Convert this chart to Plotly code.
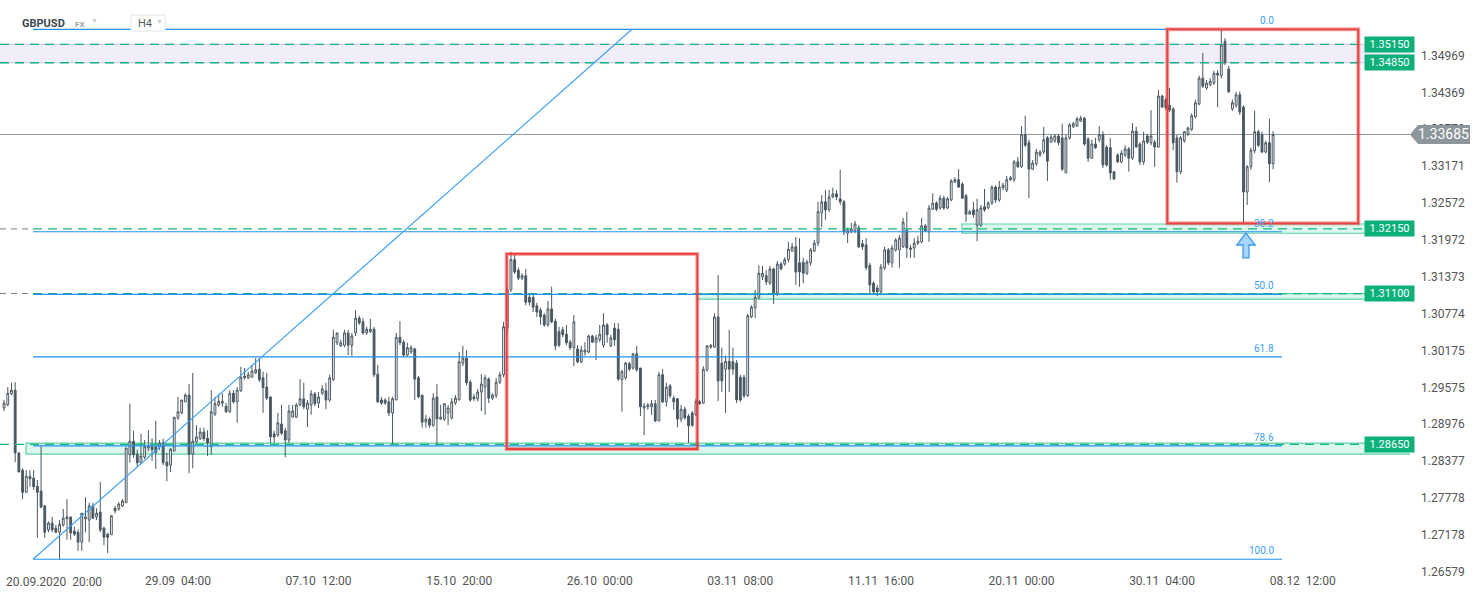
import plotly.graph_objects as go

# ---------------- DATA (GBPUSD, H4) ----------------
open_ = [
    1.2924, 1.2929, 1.2947, 1.2953, 1.2851, 1.2823, 1.2787, 1.2813, 1.2810, 1.2797,
    1.2789, 1.2765, 1.2726, 1.2737, 1.2729, 1.2722, 1.2734, 1.2747, 1.2747, 1.2724,
    1.2722, 1.2706, 1.2744, 1.2742, 1.2765, 1.2747, 1.2755, 1.2729, 1.2719, 1.2718,
    1.2761, 1.2760, 1.2765, 1.2770, 1.2848, 1.2870, 1.2849, 1.2835, 1.2844, 1.2859,
    1.2862, 1.2861, 1.2861, 1.2867, 1.2836, 1.2831, 1.2854, 1.2908, 1.2916, 1.2934,
    1.2945, 1.2849, 1.2869, 1.2874, 1.2885, 1.2875, 1.2861,
    1.2914, 1.2929, 1.2932, 1.2927, 1.2918, 1.2948, 1.2934, 1.2952, 1.2973, 1.2973,
    1.2974, 1.2981, 1.2987, 1.2973, 1.2958, 1.2942, 1.2882, 1.2880, 1.2898, 1.2887,
    1.2872, 1.2909, 1.2909, 1.2929, 1.2939, 1.2922, 1.2929, 1.2947, 1.2932, 1.2948,
    1.2952, 1.2937, 1.2970, 1.3030, 1.3025, 1.3026, 1.3046, 1.3026, 1.3046, 1.3070,
    1.3064, 1.3046, 1.3048, 1.3052, 1.2979, 1.2937, 1.2937, 1.2934, 1.2916, 1.2937,
    1.3039, 1.3031, 1.3010, 1.3015, 1.3020, 1.2973, 1.2945,
    1.2901, 1.2906, 1.2896, 1.2942, 1.2906, 1.2906, 1.2916, 1.2908, 1.2932, 1.2937,
    1.2997, 1.3005, 1.2966, 1.2942, 1.2939, 1.2950, 1.2958, 1.2971, 1.2940, 1.2944,
    1.2966, 1.2978, 1.3054, 1.3116, 1.3165, 1.3148, 1.3135, 1.3139, 1.3104, 1.3104,
    1.3090, 1.3083, 1.3075, 1.3059, 1.3085, 1.3065, 1.3048, 1.3051, 1.3044, 1.3031,
    1.3022, 1.3020, 1.2999, 1.3015, 1.3015, 1.3041, 1.3031, 1.3035, 1.3026, 1.3059,
    1.3025, 1.3054, 1.3052, 1.2970, 1.2973, 1.2996, 1.2989, 1.3012,
    1.2989, 1.2924, 1.2926, 1.2926, 1.2931, 1.2903, 1.2978, 1.2934, 1.2960, 1.2940,
    1.2939, 1.2906, 1.2922, 1.2911, 1.2916, 1.2913, 1.2934, 1.2932, 1.2986, 1.3023,
    1.3023, 1.3072, 1.2997, 1.2987, 1.3000, 1.2999, 1.2997, 1.2974, 1.2974, 1.2944,
    1.3072, 1.3087, 1.3104, 1.3137, 1.3139, 1.3127, 1.3150, 1.3111, 1.3158, 1.3158,
    1.3165, 1.3179, 1.3186, 1.3160, 1.3161, 1.3143, 1.3160, 1.3179, 1.3192, 1.3241,
    1.3259, 1.3246, 1.3267, 1.3272, 1.3264, 1.3259, 1.3208,
    1.3210, 1.3212, 1.3217, 1.3191, 1.3189, 1.3156, 1.3127, 1.3119, 1.3113, 1.3152,
    1.3181, 1.3160, 1.3181, 1.3181, 1.3186, 1.3213, 1.3184, 1.3184, 1.3192, 1.3194,
    1.3220, 1.3210, 1.3247, 1.3257, 1.3249, 1.3265, 1.3249, 1.3262, 1.3291, 1.3295,
    1.3288, 1.3269, 1.3239, 1.3246, 1.3221, 1.3221, 1.3251, 1.3249, 1.3257, 1.3283,
    1.3262, 1.3282, 1.3278, 1.3295, 1.3295, 1.3324, 1.3316, 1.3368, 1.3355, 1.3312,
    1.3321, 1.3335, 1.3340, 1.3363, 1.3356, 1.3358, 1.3366,
    1.3363, 1.3306, 1.3363, 1.3381, 1.3382, 1.3390, 1.3395, 1.3361, 1.3330, 1.3353,
    1.3360, 1.3368, 1.3348, 1.3347, 1.3308, 1.3335, 1.3324, 1.3335, 1.3345, 1.3330,
    1.3374, 1.3353, 1.3324, 1.3366, 1.3355, 1.3356, 1.3348, 1.3431, 1.3425, 1.3416,
    1.3410, 1.3363, 1.3308, 1.3358, 1.3369, 1.3377, 1.3397, 1.3418, 1.3460, 1.3444,
    1.3449, 1.3452, 1.3468, 1.3464, 1.3520, 1.3475, 1.3410, 1.3416, 1.3433, 1.3413,
    1.3275, 1.3316, 1.3342, 1.3373, 1.3368, 1.3340, 1.3355, 1.3321,
]

high = [
    1.2937, 1.2958, 1.2965, 1.2966, 1.2852, 1.2826, 1.2823, 1.2823, 1.2823, 1.2807,
    1.2862, 1.2765, 1.2740, 1.2747, 1.2734, 1.2742, 1.2760, 1.2776, 1.2747, 1.2731,
    1.2727, 1.2753, 1.2779, 1.2770, 1.2770, 1.2761, 1.2804, 1.2731, 1.2721, 1.2749,
    1.2765, 1.2771, 1.2776, 1.2859, 1.2931, 1.2887, 1.2856, 1.2882, 1.2872, 1.2888,
    1.2875, 1.2903, 1.2872, 1.2874, 1.2851, 1.2859, 1.2909, 1.2942, 1.2937, 1.2948,
    1.2963, 1.2981, 1.2896, 1.2892, 1.2892, 1.2888, 1.2953,
    1.2942, 1.2947, 1.2948, 1.2932, 1.2953, 1.2953, 1.2958, 1.2991, 1.2989, 1.2983,
    1.2994, 1.3005, 1.3005, 1.2983, 1.2981, 1.2942, 1.2887, 1.2916, 1.2929, 1.2892,
    1.2929, 1.2929, 1.2932, 1.2971, 1.2965, 1.2937, 1.2953, 1.2950, 1.2950, 1.2961,
    1.2965, 1.2978, 1.3051, 1.3046, 1.3035, 1.3051, 1.3051, 1.3046, 1.3083, 1.3074,
    1.3070, 1.3056, 1.3069, 1.3056, 1.2994, 1.2942, 1.2940, 1.2942, 1.2942, 1.3046,
    1.3065, 1.3035, 1.3030, 1.3026, 1.3022, 1.2976, 1.2945,
    1.2913, 1.2909, 1.2948, 1.2963, 1.2929, 1.2932, 1.2929, 1.2940, 1.2945, 1.3015,
    1.3025, 1.3018, 1.2970, 1.2947, 1.2955, 1.2979, 1.2978, 1.2974, 1.2948, 1.2973,
    1.2983, 1.3064, 1.3121, 1.3178, 1.3173, 1.3152, 1.3143, 1.3150, 1.3111, 1.3111,
    1.3095, 1.3087, 1.3078, 1.3098, 1.3121, 1.3069, 1.3056, 1.3056, 1.3059, 1.3035,
    1.3075, 1.3026, 1.3025, 1.3031, 1.3043, 1.3043, 1.3043, 1.3059, 1.3078, 1.3062,
    1.3043, 1.3062, 1.3062, 1.2986, 1.2999, 1.2999, 1.3013, 1.3025,
    1.2989, 1.2932, 1.2932, 1.2937, 1.2937, 1.2983, 1.2987, 1.2965, 1.2963, 1.2944,
    1.2940, 1.2929, 1.2926, 1.2914, 1.2919, 1.2939, 1.2937, 1.2992, 1.3026, 1.3028,
    1.3078, 1.3140, 1.3022, 1.3009, 1.3051, 1.3022, 1.3002, 1.2978, 1.2978, 1.3077,
    1.3091, 1.3116, 1.3156, 1.3155, 1.3148, 1.3155, 1.3152, 1.3163, 1.3161, 1.3169,
    1.3194, 1.3192, 1.3202, 1.3200, 1.3168, 1.3165, 1.3184, 1.3197, 1.3259, 1.3270,
    1.3278, 1.3278, 1.3282, 1.3278, 1.3311, 1.3262, 1.3217,
    1.3225, 1.3228, 1.3221, 1.3197, 1.3200, 1.3160, 1.3130, 1.3124, 1.3158, 1.3186,
    1.3184, 1.3189, 1.3200, 1.3205, 1.3233, 1.3243, 1.3189, 1.3200, 1.3204, 1.3233,
    1.3223, 1.3254, 1.3273, 1.3260, 1.3270, 1.3269, 1.3267, 1.3296, 1.3299, 1.3312,
    1.3291, 1.3272, 1.3246, 1.3259, 1.3264, 1.3254, 1.3280, 1.3260, 1.3286, 1.3286,
    1.3293, 1.3290, 1.3301, 1.3301, 1.3327, 1.3332, 1.3382, 1.3399, 1.3360, 1.3327,
    1.3345, 1.3343, 1.3381, 1.3366, 1.3368, 1.3369, 1.3369,
    1.3386, 1.3368, 1.3387, 1.3389, 1.3397, 1.3399, 1.3397, 1.3364, 1.3360, 1.3363,
    1.3382, 1.3374, 1.3351, 1.3363, 1.3309, 1.3338, 1.3343, 1.3351, 1.3348, 1.3387,
    1.3381, 1.3356, 1.3373, 1.3369, 1.3408, 1.3360, 1.3441, 1.3433, 1.3428, 1.3444,
    1.3413, 1.3368, 1.3366, 1.3374, 1.3381, 1.3403, 1.3425, 1.3464, 1.3501, 1.3457,
    1.3460, 1.3472, 1.3473, 1.3539, 1.3525, 1.3480, 1.3425, 1.3438, 1.3438, 1.3416,
    1.3319, 1.3347, 1.3407, 1.3376, 1.3373, 1.3358, 1.3394, 1.3374,
]

low = [
    1.2919, 1.2927, 1.2945, 1.2836, 1.2820, 1.2776, 1.2787, 1.2796, 1.2791, 1.2713,
    1.2761, 1.2713, 1.2722, 1.2722, 1.2721, 1.2678, 1.2731, 1.2710, 1.2710, 1.2716,
    1.2692, 1.2692, 1.2722, 1.2706, 1.2744, 1.2742, 1.2722, 1.2701, 1.2688, 1.2718,
    1.2753, 1.2757, 1.2763, 1.2770, 1.2835, 1.2843, 1.2828, 1.2833, 1.2841, 1.2854,
    1.2838, 1.2825, 1.2856, 1.2831, 1.2805, 1.2820, 1.2854, 1.2905, 1.2914, 1.2934,
    1.2818, 1.2826, 1.2867, 1.2872, 1.2870, 1.2846, 1.2848,
    1.2911, 1.2926, 1.2926, 1.2916, 1.2916, 1.2931, 1.2900, 1.2950, 1.2970, 1.2971,
    1.2974, 1.2979, 1.2966, 1.2916, 1.2937, 1.2867, 1.2867, 1.2877, 1.2880, 1.2844,
    1.2867, 1.2909, 1.2908, 1.2927, 1.2922, 1.2893, 1.2913, 1.2927, 1.2924, 1.2945,
    1.2922, 1.2934, 1.2968, 1.3026, 1.3023, 1.3023, 1.3010, 1.3009, 1.3041, 1.3059,
    1.3043, 1.3043, 1.3046, 1.2974, 1.2932, 1.2929, 1.2929, 1.2911, 1.2864, 1.2937,
    1.3026, 1.3007, 1.3007, 1.3012, 1.2937, 1.2940, 1.2892,
    1.2892, 1.2892, 1.2893, 1.2864, 1.2905, 1.2903, 1.2896, 1.2905, 1.2929, 1.2937,
    1.2992, 1.2961, 1.2934, 1.2935, 1.2935, 1.2919, 1.2913, 1.2932, 1.2937, 1.2940,
    1.2963, 1.2974, 1.3048, 1.3113, 1.3142, 1.3132, 1.3132, 1.3091, 1.3091, 1.3080,
    1.3072, 1.3059, 1.3056, 1.3056, 1.3062, 1.3018, 1.3023, 1.3039, 1.3026, 1.3018,
    1.2992, 1.2997, 1.2997, 1.3009, 1.3013, 1.3030, 1.3002, 1.3031, 1.3022, 1.3030,
    1.3023, 1.3025, 1.2968, 1.2918, 1.2970, 1.2984, 1.2986, 1.2983,
    1.2911, 1.2880, 1.2921, 1.2913, 1.2901, 1.2903, 1.2932, 1.2926, 1.2940, 1.2921,
    1.2893, 1.2901, 1.2905, 1.2867, 1.2893, 1.2911, 1.2929, 1.2931, 1.2983, 1.3020,
    1.3022, 1.2935, 1.2950, 1.2916, 1.2950, 1.2978, 1.2932, 1.2934, 1.2940, 1.2942,
    1.3070, 1.3070, 1.3100, 1.3132, 1.3124, 1.3124, 1.3093, 1.3106, 1.3148, 1.3155,
    1.3161, 1.3178, 1.3124, 1.3121, 1.3127, 1.3140, 1.3155, 1.3178, 1.3187, 1.3218,
    1.3230, 1.3243, 1.3265, 1.3262, 1.3254, 1.3205, 1.3192,
    1.3208, 1.3208, 1.3184, 1.3181, 1.3148, 1.3108, 1.3109, 1.3106, 1.3111, 1.3148,
    1.3156, 1.3152, 1.3178, 1.3152, 1.3184, 1.3168, 1.3168, 1.3168, 1.3189, 1.3192,
    1.3210, 1.3194, 1.3246, 1.3244, 1.3246, 1.3246, 1.3247, 1.3260, 1.3290, 1.3282,
    1.3264, 1.3226, 1.3238, 1.3233, 1.3195, 1.3218, 1.3243, 1.3247, 1.3254, 1.3257,
    1.3259, 1.3278, 1.3275, 1.3293, 1.3291, 1.3314, 1.3314, 1.3348, 1.3265, 1.3311,
    1.3317, 1.3332, 1.3337, 1.3293, 1.3355, 1.3355, 1.3351,
    1.3309, 1.3306, 1.3360, 1.3379, 1.3381, 1.3389, 1.3350, 1.3324, 1.3329, 1.3345,
    1.3356, 1.3314, 1.3316, 1.3295, 1.3295, 1.3322, 1.3322, 1.3332, 1.3308, 1.3327,
    1.3347, 1.3319, 1.3319, 1.3353, 1.3351, 1.3316, 1.3347, 1.3412, 1.3408, 1.3405,
    1.3343, 1.3290, 1.3304, 1.3355, 1.3366, 1.3374, 1.3395, 1.3416, 1.3444, 1.3441,
    1.3447, 1.3449, 1.3413, 1.3460, 1.3481, 1.3436, 1.3407, 1.3412, 1.3400, 1.3225,
    1.3254, 1.3311, 1.3338, 1.3348, 1.3338, 1.3338, 1.3291, 1.3312,
]

close = [
    1.2932, 1.2948, 1.2953, 1.2851, 1.2820, 1.2787, 1.2813, 1.2809, 1.2796, 1.2787,
    1.2763, 1.2722, 1.2737, 1.2726, 1.2722, 1.2735, 1.2745, 1.2744, 1.2721, 1.2719,
    1.2706, 1.2753, 1.2747, 1.2765, 1.2745, 1.2753, 1.2726, 1.2714, 1.2714, 1.2749,
    1.2757, 1.2768, 1.2773, 1.2859, 1.2870, 1.2848, 1.2835, 1.2846, 1.2861, 1.2862,
    1.2856, 1.2852, 1.2867, 1.2835, 1.2830, 1.2857, 1.2909, 1.2918, 1.2937, 1.2945,
    1.2849, 1.2870, 1.2877, 1.2885, 1.2874, 1.2867, 1.2918,
    1.2931, 1.2935, 1.2935, 1.2918, 1.2948, 1.2934, 1.2953, 1.2974, 1.2976, 1.2978,
    1.2984, 1.2986, 1.2970, 1.2957, 1.2940, 1.2877, 1.2877, 1.2900, 1.2883, 1.2872,
    1.2919, 1.2919, 1.2929, 1.2939, 1.2926, 1.2932, 1.2947, 1.2931, 1.2942, 1.2955,
    1.2937, 1.2973, 1.3039, 1.3046, 1.3030, 1.3046, 1.3026, 1.3041, 1.3070, 1.3062,
    1.3046, 1.3052, 1.3052, 1.2978, 1.2934, 1.2932, 1.2932, 1.2916, 1.2939, 1.3039,
    1.3030, 1.3010, 1.3022, 1.3022, 1.2971, 1.2942, 1.2901,
    1.2906, 1.2896, 1.2940, 1.2906, 1.2909, 1.2931, 1.2924, 1.2934, 1.2940, 1.2999,
    1.3005, 1.2965, 1.2937, 1.2939, 1.2950, 1.2963, 1.2973, 1.2940, 1.2945, 1.2966,
    1.2978, 1.3056, 1.3116, 1.3165, 1.3145, 1.3135, 1.3139, 1.3096, 1.3096, 1.3088,
    1.3080, 1.3072, 1.3059, 1.3085, 1.3064, 1.3025, 1.3026, 1.3043, 1.3030, 1.3022,
    1.3064, 1.2999, 1.3018, 1.3018, 1.3041, 1.3031, 1.3038, 1.3044, 1.3059, 1.3043,
    1.3038, 1.3035, 1.2971, 1.2983, 1.2997, 1.2987, 1.3012, 1.2986,
    1.2926, 1.2927, 1.2929, 1.2931, 1.2903, 1.2978, 1.2934, 1.2958, 1.2944, 1.2934,
    1.2906, 1.2922, 1.2908, 1.2895, 1.2896, 1.2935, 1.2931, 1.2987, 1.3025, 1.3026,
    1.3072, 1.2968, 1.2968, 1.3000, 1.2987, 1.2987, 1.2937, 1.2937, 1.2944, 1.3074,
    1.3088, 1.3104, 1.3143, 1.3143, 1.3129, 1.3150, 1.3111, 1.3158, 1.3150, 1.3165,
    1.3182, 1.3186, 1.3145, 1.3145, 1.3143, 1.3161, 1.3181, 1.3192, 1.3243, 1.3259,
    1.3246, 1.3267, 1.3272, 1.3267, 1.3259, 1.3210, 1.3213,
    1.3215, 1.3223, 1.3186, 1.3186, 1.3152, 1.3124, 1.3113, 1.3113, 1.3153, 1.3181,
    1.3160, 1.3184, 1.3197, 1.3200, 1.3226, 1.3184, 1.3182, 1.3192, 1.3195, 1.3220,
    1.3212, 1.3249, 1.3257, 1.3247, 1.3265, 1.3249, 1.3264, 1.3293, 1.3295, 1.3283,
    1.3265, 1.3239, 1.3243, 1.3238, 1.3246, 1.3249, 1.3246, 1.3257, 1.3283, 1.3262,
    1.3283, 1.3286, 1.3295, 1.3298, 1.3324, 1.3316, 1.3368, 1.3351, 1.3312, 1.3322,
    1.3340, 1.3340, 1.3360, 1.3325, 1.3364, 1.3366, 1.3355,
    1.3312, 1.3363, 1.3384, 1.3386, 1.3394, 1.3395, 1.3353, 1.3330, 1.3353, 1.3347,
    1.3368, 1.3319, 1.3319, 1.3306, 1.3296, 1.3324, 1.3338, 1.3345, 1.3330, 1.3374,
    1.3348, 1.3324, 1.3358, 1.3356, 1.3366, 1.3348, 1.3431, 1.3413, 1.3412, 1.3408,
    1.3355, 1.3308, 1.3363, 1.3373, 1.3379, 1.3399, 1.3420, 1.3460, 1.3447, 1.3452,
    1.3455, 1.3468, 1.3465, 1.3514, 1.3485, 1.3438, 1.3420, 1.3433, 1.3405, 1.3275,
    1.3316, 1.3343, 1.3373, 1.3351, 1.3340, 1.3355, 1.3321, 1.33685,
]

first_bar_index = -9          # bars before 20.09.2020 20:00
x_tick_index = [0, 38, 76, 114, 152, 190, 228, 266, 304, 342]
x_tick_text = ["20.09.2020  20:00", "29.09  04:00", "07.10  12:00", "15.10  20:00",
               "26.10  00:00", "03.11  08:00", "11.11  16:00", "20.11  00:00",
               "30.11  04:00", "08.12  12:00"]
y_tick_values = [1.26579, 1.27178, 1.27778, 1.28377, 1.28976, 1.29575, 1.30175, 1.30774,
                 1.31373, 1.31972, 1.32572, 1.33171, 1.33770, 1.34369, 1.34969]
level_prices = [1.35150, 1.34850, 1.32150, 1.31100, 1.28650]
current_price = 1.33685
fib_high = 1.35394
fib_low = 1.26782
fib_ratios = [0.0, 38.2, 50.0, 61.8, 78.6, 100.0]
fib_labels = ["0.0", "38.2", "50.0", "61.8", "78.6", "100.0"]

# ---------------- LAYOUT GEOMETRY ----------------
W, H = 1482, 598
ML, MR, MT, MB = 0, 72, 0, 26
PW, PH = W - ML - MR, H - MT - MB
X_MIN, X_MAX = -10.1, 371.0
Y_MIN, Y_MAX = 1.26575, 1.35870


def px_x(px):
    """pixel column inside plot area -> x (bar index)"""
    return X_MIN + px / PW * (X_MAX - X_MIN)


def paper_x(px):
    return px / PW


def paper_y_from_price(p):
    return (p - Y_MIN) / (Y_MAX - Y_MIN)


def paper_y(py):
    return 1 - py / PH


CANDLE = "#4a5863"
GREEN = "#0bb07b"
GREEN_DASH = "#12b583"
FIB_BLUE = "#2391ef"
RED = "#e8403f"

n = min(len(open_), len(high), len(low), len(close))
x_idx = list(range(first_bar_index, first_bar_index + n))

fig = go.Figure()
fig.add_trace(go.Candlestick(
    x=x_idx, open=open_[:n], high=high[:n], low=low[:n], close=close[:n],
    increasing=dict(fillcolor="#ffffff", line=dict(color=CANDLE, width=1)),
    decreasing=dict(fillcolor=CANDLE, line=dict(color=CANDLE, width=1)),
    whiskerwidth=0, hoverinfo="skip", showlegend=False,
))

shapes = []
LABEL_LEFT = px_x(1365)
ZONE_RIGHT = px_x(1412)

# lavender zone between 1.3485 and 1.3515
shapes.append(dict(type="rect", xref="x", yref="y", x0=X_MIN, x1=ZONE_RIGHT,
                   y0=level_prices[1], y1=level_prices[0], fillcolor="#f1edf9",
                   line=dict(width=0), layer="below"))
for lv in level_prices[:2]:
    shapes.append(dict(type="line", xref="x", yref="y", x0=X_MIN, x1=ZONE_RIGHT, y0=lv, y1=lv,
                       line=dict(color="#cdbfea", width=1), layer="below"))
# green zones
zones = [
    (px_x(962), 1.3208, 1.3223),
    (px_x(697), 1.3101, 1.3110),
    (px_x(26), 1.2849, 1.2867),
]
for x0, y0, y1 in zones:
    shapes.append(dict(type="rect", xref="x", yref="y", x0=x0, x1=ZONE_RIGHT,
                       y0=y0, y1=y1, fillcolor="#dbf6ec",
                       line=dict(color="#5fd2a8", width=1.2), layer="below"))

# current price line
shapes.append(dict(type="line", xref="paper", yref="y", x0=0, x1=1, y0=current_price,
                   y1=current_price, line=dict(color="#8e979c", width=1), layer="below"))

# dashed level lines
for i, lv in enumerate(level_prices):
    start = X_MIN
    if i in (2, 3):
        shapes.append(dict(type="line", xref="x", yref="y", x0=X_MIN, x1=px_x(31),
                           y0=lv, y1=lv, line=dict(color="#7a7f84", width=1, dash="6px,5px"),
                           layer="above"))
        start = px_x(33)
    shapes.append(dict(type="line", xref="x", yref="y", x0=start, x1=LABEL_LEFT,
                       y0=lv, y1=lv, line=dict(color=GREEN_DASH, width=1.3, dash="9px,6px"),
                       layer="above"))

# fibonacci retracement
fib_x0, fib_x1 = px_x(33), px_x(1282)
for r, lab in zip(fib_ratios, fib_labels):
    lv = fib_high - r / 100 * (fib_high - fib_low)
    shapes.append(dict(type="line", xref="x", yref="y", x0=fib_x0, x1=fib_x1, y0=lv, y1=lv,
                       line=dict(color=FIB_BLUE, width=1.2), layer="above"))

# trend line from the low to the high level
shapes.append(dict(type="line", xref="x", yref="y", x0=fib_x0, x1=px_x(632),
                   y0=fib_low, y1=fib_high, line=dict(color="#3ea1f3", width=1.2),
                   layer="above"))

# red boxes
for bx0, bx1, by0, by1 in [(px_x(506.7), px_x(697.3), 1.28574, 1.31743),
                           (px_x(1167.3), px_x(1358.3), 1.32241, fib_high)]:
    shapes.append(dict(type="rect", xref="x", yref="y", x0=bx0, x1=bx1, y0=by0, y1=by1,
                       line=dict(color="rgba(232,64,63,0.45)", width=4), layer="above"))
    shapes.append(dict(type="rect", xref="x", yref="y", x0=bx0, x1=bx1, y0=by0, y1=by1,
                       line=dict(color=RED, width=1.8), layer="above"))

# blue arrow under the spike low
ax = px_x(1246)
hw, sw = 2.5, 0.8
tip, base, bottom = 1.32084, 1.31889, 1.31678
arrow_path = (f"M {ax},{tip} L {ax - hw},{base} L {ax - sw},{base} L {ax - sw},{bottom} "
              f"L {ax + sw},{bottom} L {ax + sw},{base} L {ax + hw},{base} Z")
shapes.append(dict(type="path", xref="x", yref="y", path=arrow_path,
                   fillcolor="#a9d5fb", line=dict(color="#3a9af0", width=1.3), layer="above"))

# header H4 box
shapes.append(dict(type="rect", xref="paper", yref="paper", x0=paper_x(131), x1=paper_x(165),
                   y0=paper_y(31), y1=paper_y(15), fillcolor="#ffffff",
                   line=dict(color="#e2e4e6", width=1)))

# current price tag (gray arrow box on the right axis)
cy = paper_y_from_price(current_price)
hh = 9.5 / PH
tag = (f"M {paper_x(1410)},{cy} L {paper_x(1418)},{cy + hh} L {paper_x(1470)},{cy + hh} "
       f"L {paper_x(1470)},{cy - hh} L {paper_x(1418)},{cy - hh} Z")
shapes.append(dict(type="path", xref="paper", yref="paper", path=tag,
                   fillcolor="#8d969b", line=dict(color="#8d969b", width=0)))

annotations = []
FONT = "Roboto, Arial, sans-serif"
for lv in level_prices:
    annotations.append(dict(xref="paper", yref="y", x=paper_x(1364), y=lv, xanchor="left",
                            yanchor="middle", text=f"{lv:.5f}", showarrow=False,
                            bgcolor=GREEN, font=dict(color="white", size=11, family=FONT),
                            width=47, height=13, borderpad=1, align="center"))
for r, lab in zip(fib_ratios, fib_labels):
    lv = fib_high - r / 100 * (fib_high - fib_low)
    annotations.append(dict(xref="x", yref="y", x=px_x(1276), y=lv, xanchor="right",
                            yanchor="bottom", text=lab, showarrow=False, yshift=1,
                            font=dict(color="#3da0f2", size=10, family=FONT)))
annotations.append(dict(xref="paper", yref="paper", x=paper_x(1443), y=cy, text=f"{current_price:.5f}",
                        showarrow=False, xanchor="center", yanchor="middle",
                        font=dict(color="white", size=14, family=FONT)))
# header texts
annotations += [
    dict(xref="paper", yref="paper", x=paper_x(20), y=paper_y(23), xanchor="left", yanchor="middle",
         text="<b>GBPUSD</b>", showarrow=False, font=dict(color="#3b4651", size=11, family=FONT)),
    dict(xref="paper", yref="paper", x=paper_x(73), y=paper_y(24), xanchor="left", yanchor="middle",
         text="<b>FX</b>", showarrow=False, font=dict(color="#9aa4ad", size=8, family=FONT)),
    dict(xref="paper", yref="paper", x=paper_x(89), y=paper_y(21), xanchor="left", yanchor="middle",
         text="▼", showarrow=False, font=dict(color="#c9cdd0", size=7, family=FONT)),
    dict(xref="paper", yref="paper", x=paper_x(136), y=paper_y(23), xanchor="left", yanchor="middle",
         text="H4", showarrow=False, font=dict(color="#555c62", size=11, family=FONT)),
    dict(xref="paper", yref="paper", x=paper_x(154), y=paper_y(22), xanchor="left", yanchor="middle",
         text="▼", showarrow=False, font=dict(color="#c9cdd0", size=7, family=FONT)),
    dict(xref="paper", yref="paper", x=paper_x(4), y=paper_y(582), xanchor="left", yanchor="middle",
         text=x_tick_text[0].replace(" ", "\u00a0"), showarrow=False,
         font=dict(color="#555555", size=12, family=FONT)),
]

fig.update_layout(
    width=W, height=H, margin=dict(l=ML, r=MR, t=MT, b=MB),
    paper_bgcolor="white", plot_bgcolor="white",
    shapes=shapes, annotations=annotations, showlegend=False,
    xaxis=dict(range=[X_MIN, X_MAX], showgrid=False, zeroline=False, showline=False,
               rangeslider=dict(visible=False), tickmode="array",
               tickvals=x_tick_index[1:], ticktext=[t.replace(" ", "\u00a0") for t in x_tick_text[1:]],
               ticks="", tickfont=dict(size=12, color="#555555", family=FONT), fixedrange=True),
    yaxis=dict(range=[Y_MIN, Y_MAX], side="right", showgrid=False, zeroline=False, showline=False,
               tickmode="array", tickvals=y_tick_values, ticktext=[f"{v:.5f}" for v in y_tick_values],
               ticks="", ticklabelstandoff=10, tickfont=dict(size=12, color="#555555", family=FONT),
               fixedrange=True),
    font=dict(family=FONT),
)

fig.write_html("out.html", config={"displayModeBar": False},
               post_script="document.body.style.margin='0';document.body.style.overflow='hidden';")
